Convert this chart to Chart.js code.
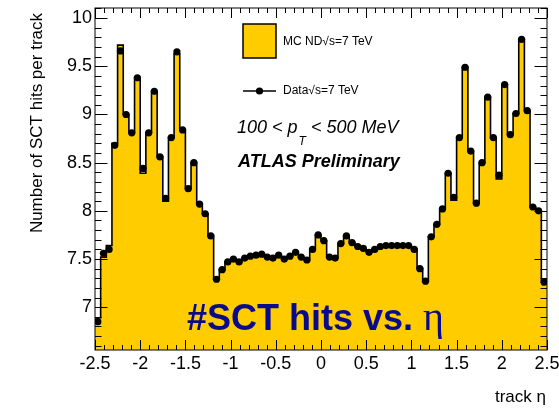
<!DOCTYPE html>
<html>
<head>
<meta charset="utf-8">
<script src="https://cdn.jsdelivr.net/npm/chart.js@4"></script>
<style>
  html, body { margin: 0; padding: 0; background: #fff; }
</style>
</head>
<body>
<canvas id="sct" width="559" height="409"></canvas>
<script>
// 80 eta bins between -2.5 and 2.5
const etaMin = -2.5;
const etaMax = 2.5;
const nBins = 80;

// mean number of SCT hits per track, MC non-diffractive
const mcHits = [
  6.89, 7.52, 7.64, 8.70, 9.72, 9.00, 8.81, 9.38, 8.39, 8.81,
  9.24, 8.56, 8.10, 8.76, 9.63, 8.84, 8.23, 8.50, 8.07, 7.97,
  7.74, 7.29, 7.39, 7.47, 7.50, 7.47, 7.51, 7.53, 7.54, 7.55,
  7.52, 7.51, 7.54, 7.50, 7.53, 7.57, 7.52, 7.49, 7.60, 7.75,
  7.69, 7.52, 7.51, 7.66, 7.74, 7.67, 7.63, 7.61, 7.57, 7.60,
  7.63, 7.64, 7.64, 7.64, 7.64, 7.64, 7.60, 7.40, 7.27, 7.73,
  7.86, 8.02, 8.39, 8.11, 8.76, 9.49, 8.62, 8.08, 8.50, 9.18,
  8.76, 8.33, 9.31, 8.79, 9.01, 9.78, 9.04, 8.04, 8.00, 7.26
];

// same quantity measured in data
const dataHits = [
  6.85, 7.56, 7.60, 8.68, 9.66, 9.00, 8.81, 9.38, 8.44, 8.81,
  9.24, 8.56, 8.13, 8.76, 9.65, 8.84, 8.23, 8.50, 8.07, 7.97,
  7.74, 7.29, 7.39, 7.47, 7.50, 7.47, 7.51, 7.53, 7.54, 7.55,
  7.52, 7.51, 7.54, 7.50, 7.53, 7.57, 7.52, 7.49, 7.60, 7.75,
  7.69, 7.52, 7.51, 7.66, 7.74, 7.67, 7.63, 7.61, 7.57, 7.60,
  7.63, 7.64, 7.64, 7.64, 7.64, 7.64, 7.60, 7.40, 7.27, 7.73,
  7.86, 8.02, 8.39, 8.14, 8.76, 9.49, 8.62, 8.08, 8.50, 9.18,
  8.76, 8.37, 9.31, 8.79, 9.01, 9.78, 9.04, 8.04, 8.00, 7.26
];

const etaTicks = [-2.5, -2, -1.5, -1, -0.5, 0, 0.5, 1, 1.5, 2, 2.5];
const hitTicks = [7, 7.5, 8, 8.5, 9, 9.5, 10];

const binWidth = (etaMax - etaMin) / nBins;
const edges = Array.from({ length: nBins + 1 }, (_, i) => etaMin + i * binWidth);

// step outline: one point per bin edge, last edge repeats the last bin
const mcSteps = edges.map((x, i) => ({ x, y: mcHits[Math.min(i, nBins - 1)] }));
const dataPoints = dataHits.map((y, i) => ({ x: edges[i] + binWidth / 2, y }));

const YELLOW = '#ffcc00';
const SANS = 'Liberation Sans, Arial, sans-serif';

// ROOT style frame: ticks pointing inwards on all four sides
const rootFrame = {
  id: 'rootFrame',
  afterDraw(chart) {
    const { ctx, chartArea: a, scales: { x, y } } = chart;
    ctx.save();
    ctx.strokeStyle = '#000';
    ctx.lineWidth = 1;
    ctx.strokeRect(a.left, a.top, a.right - a.left, a.bottom - a.top);

    ctx.beginPath();
    for (let k = -25; k <= 25; k++) {
      const px = Math.round(x.getPixelForValue(k / 10)) + 0.5;
      const len = k % 5 === 0 ? 10 : 5;
      ctx.moveTo(px, a.bottom); ctx.lineTo(px, a.bottom - len);
      ctx.moveTo(px, a.top); ctx.lineTo(px, a.top + len);
    }
    for (let k = 60; k <= 105; k++) {
      const v = k / 10;
      if (v < y.min || v > y.max) continue;
      const py = Math.round(y.getPixelForValue(v)) + 0.5;
      const len = k % 5 === 0 ? 12.5 : 6.5;
      ctx.moveTo(a.left, py); ctx.lineTo(a.left + len, py);
      ctx.moveTo(a.right, py); ctx.lineTo(a.right - len, py);
    }
    ctx.stroke();

    // axis titles
    ctx.fillStyle = '#000';
    ctx.font = '17px ' + SANS;
    ctx.textBaseline = 'alphabetic';
    ctx.save();
    ctx.translate(41.5, 13);
    ctx.rotate(-Math.PI / 2);
    ctx.textAlign = 'right';
    ctx.fillText('Number of SCT hits per track', 0, 0);
    ctx.restore();
    ctx.textAlign = 'right';
    ctx.fillText('track \u03b7', 546, 402);

    // legend
    ctx.fillStyle = YELLOW;
    ctx.fillRect(243, 24, 33, 34);
    ctx.lineWidth = 1.5;
    ctx.strokeRect(243, 24, 33, 34);
    ctx.beginPath();
    ctx.lineWidth = 1.5;
    ctx.moveTo(243, 91); ctx.lineTo(276, 91);
    ctx.stroke();
    ctx.beginPath();
    ctx.fillStyle = '#000';
    ctx.arc(259.5, 91, 3.6, 0, Math.PI * 2);
    ctx.fill();
    ctx.textAlign = 'left';
    ctx.textBaseline = 'middle';
    ctx.font = '12px ' + SANS;
    ctx.fillText('MC ND\u221as=7 TeV', 283, 42);
    ctx.fillText('Data\u221as=7 TeV', 283, 91);

    // kinematic range and label
    ctx.textBaseline = 'alphabetic';
    ctx.font = 'italic 18px ' + SANS;
    let cx = 237;
    ctx.fillText('100 < p', cx, 133);
    cx += ctx.measureText('100 < p').width + 1;
    ctx.font = 'italic 12px ' + SANS;
    ctx.fillText('T', cx, 145);
    cx += ctx.measureText('T').width;
    ctx.font = 'italic 18px ' + SANS;
    ctx.fillText(' < 500 MeV', cx, 133);
    ctx.font = 'bold italic 18px ' + SANS;
    ctx.fillText('ATLAS Preliminary', 238, 166.5);

    // big caption over the histogram
    ctx.fillStyle = '#0a0a8c';
    ctx.font = 'bold 36px ' + SANS;
    ctx.fillText('#SCT hits vs. ', 187, 329.5);
    const w = ctx.measureText('#SCT hits vs. ').width;
    ctx.font = '40px Liberation Serif, serif';
    ctx.fillText('\u03b7', 187 + w, 329.5);
    ctx.restore();
  }
};

new Chart(document.getElementById('sct'), {
  type: 'scatter',
  data: {
    datasets: [
      {
        label: 'Data',
        data: dataPoints,
        showLine: false,
        pointRadius: 3.6,
        pointBackgroundColor: '#000',
        pointBorderColor: '#000',
        pointBorderWidth: 0,
        order: 0
      },
      {
        label: 'MC ND',
        type: 'line',
        data: mcSteps,
        stepped: 'before',
        pointRadius: 0,
        borderColor: '#000',
        borderWidth: 1.6,
        backgroundColor: YELLOW,
        fill: 'start',
        order: 1
      }
    ]
  },
  options: {
    responsive: false,
    animation: false,
    layout: { padding: { left: 0, right: 12, top: 8, bottom: 0 } },
    plugins: { legend: { display: false }, tooltip: { enabled: false } },
    scales: {
      x: {
        type: 'linear',
        min: etaMin,
        max: etaMax,
        afterBuildTicks: s => { s.ticks = etaTicks.map(v => ({ value: v })); },
        afterFit: s => { s.height = 59; s.paddingLeft = 0; s.paddingRight = 0; },
        grid: { display: false, drawTicks: false },
        border: { display: false },
        ticks: {
          padding: 3,
          color: '#000',
          autoSkip: false,
          maxRotation: 0,
          callback: v => String(v),
          font: { family: SANS, size: 18 }
        }
      },
      y: {
        min: 6.556,
        max: 10.105,
        afterBuildTicks: s => { s.ticks = hitTicks.map(v => ({ value: v })); },
        afterFit: s => { s.width = 95; s.paddingTop = 0; s.paddingBottom = 0; },
        grid: { display: false, drawTicks: false },
        border: { display: false },
        ticks: {
          padding: 3,
          color: '#000',
          callback: v => String(v),
          font: { family: SANS, size: 18 }
        }
      }
    }
  },
  plugins: [rootFrame]
});
</script>
</body>
</html>
